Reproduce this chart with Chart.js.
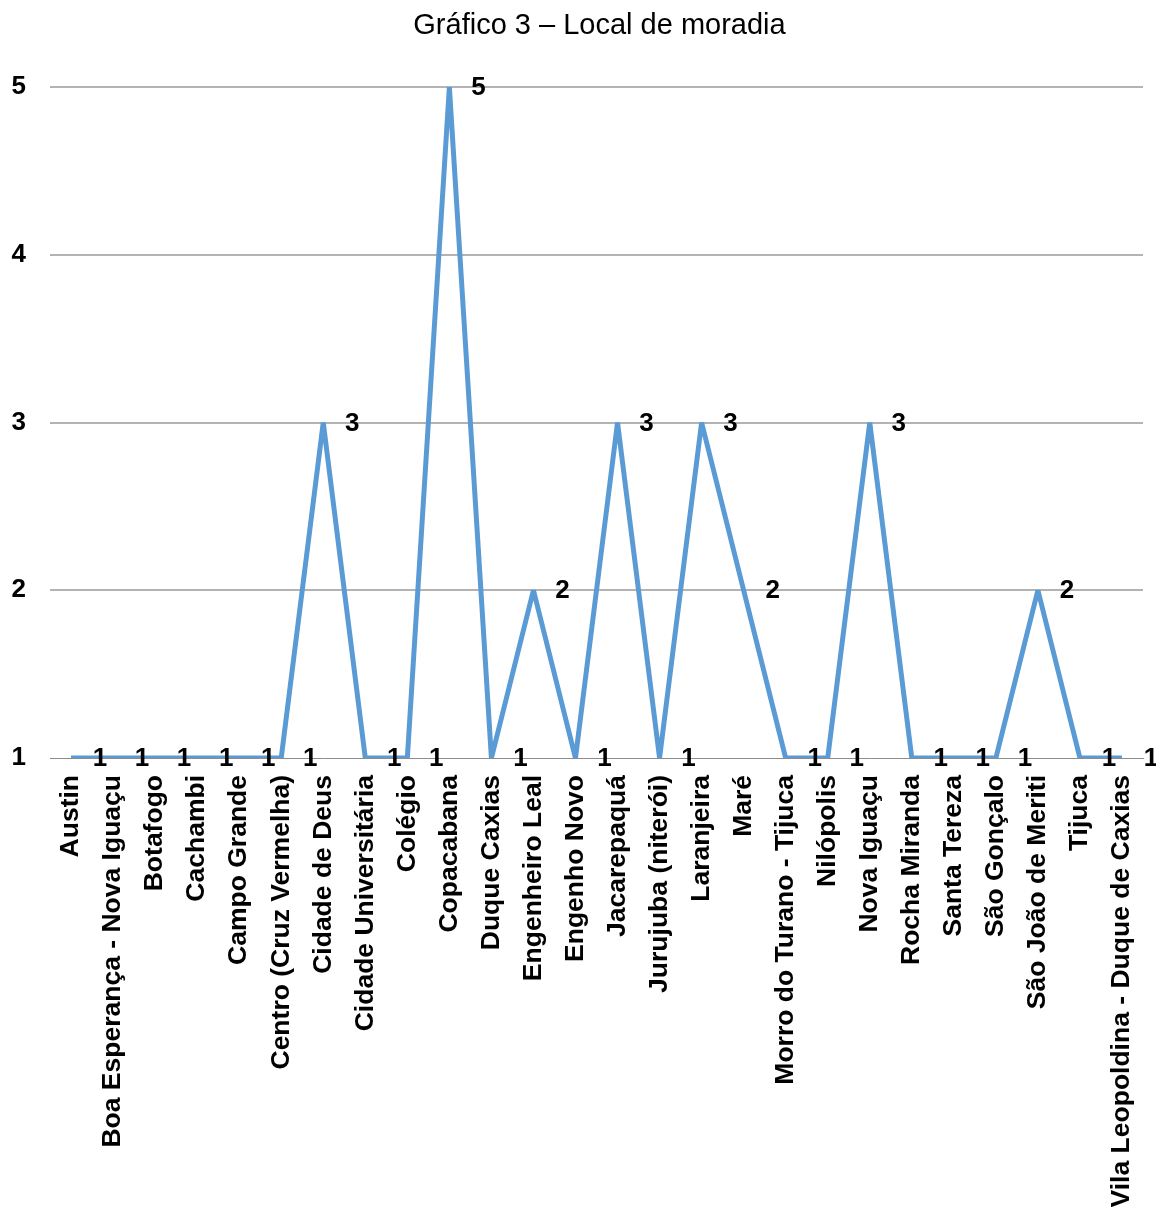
<!DOCTYPE html>
<html lang="pt-BR">
<head>
<meta charset="utf-8">
<title>Gráfico 3 – Local de moradia</title>
<script src="https://cdn.jsdelivr.net/npm/chart.js@4.4.1/dist/chart.umd.min.js"></script>
<style>
  body { margin: 0; background: #fff; }
  #wrap { width: 1156px; height: 1207px; }
</style>
</head>
<body>
<div id="wrap"><canvas id="myChart"></canvas></div>
<script>
const bairros = [
  "Austin",
  "Boa Esperança - Nova Iguaçu",
  "Botafogo",
  "Cachambi",
  "Campo Grande",
  "Centro (Cruz Vermelha)",
  "Cidade de Deus",
  "Cidade Universitária",
  "Colégio",
  "Copacabana",
  "Duque Caxias",
  "Engenheiro Leal",
  "Engenho Novo",
  "Jacarepaquá",
  "Jurujuba (niterói)",
  "Laranjeira",
  "Maré",
  "Morro do Turano - Tijuca",
  "Nilópolis",
  "Nova Iguaçu",
  "Rocha Miranda",
  "Santa Tereza",
  "São Gonçalo",
  "São João de Meriti",
  "Tijuca",
  "Vila Leopoldina - Duque de Caxias"
];

const quantidade = [1, 1, 1, 1, 1, 1, 3, 1, 1, 5, 1, 2, 1, 3, 1, 3, 2, 1, 1, 3, 1, 1, 1, 2, 1, 1];

const yTicks = [1, 2, 3, 4, 5];

const titulo = "Gráfico 3 – Local de moradia";

const fonte = "'Liberation Sans', Arial, sans-serif";

// rótulos de valor à direita de cada ponto
const rotulos = {
  id: "rotulos",
  afterDatasetsDraw(chart) {
    const ctx = chart.ctx;
    const meta = chart.getDatasetMeta(0);
    ctx.save();
    ctx.font = "bold 26px " + fonte;
    ctx.fillStyle = "#000";
    ctx.textAlign = "center";
    ctx.textBaseline = "middle";
    meta.data.forEach((pt, i) => {
      ctx.fillText(String(quantidade[i]), pt.x + 29, pt.y + 1);
    });
    ctx.restore();
  }
};

// o título fica centrado sobre a área do gráfico
const moveTitulo = {
  id: "moveTitulo",
  afterLayout(chart) {
    const t = chart.titleBlock;
    if (t) {
      t.left += 28;
      t.right += 28;
    }
  }
};

const config = {
  type: "line",
  data: {
    labels: bairros,
    datasets: [
      {
        label: "Local de moradia",
        data: quantidade,
        borderColor: "#5B9BD5",
        backgroundColor: "#5B9BD5",
        borderWidth: 5,
        borderJoinStyle: "bevel",
        pointRadius: 0,
        pointHoverRadius: 0,
        tension: 0,
        fill: false
      }
    ]
  },
  options: {
    responsive: true,
    maintainAspectRatio: false,
    animation: false,
    layout: { padding: { left: 0, right: 13, top: 0, bottom: 0 } },
    plugins: {
      legend: { display: false },
      tooltip: { enabled: false },
      title: {
        display: true,
        text: titulo,
        color: "#000",
        font: { family: fonte, size: 29, weight: "normal" },
        padding: { top: 9, bottom: 43.2 }
      }
    },
    scales: {
      x: {
        offset: true,
        grid: { display: false, drawTicks: false },
        border: { display: true, color: "#8C8C8C", width: 1 },
        ticks: {
          autoSkip: false,
          maxRotation: 90,
          minRotation: 90,
          padding: 17,
          color: "#000",
          font: { family: fonte, size: 26.5, weight: "bold" }
        },
        afterFit(scale) {
          scale.height = 449;
          scale.paddingLeft = 0;
          scale.paddingRight = 0;
        }
      },
      y: {
        min: yTicks[0],
        max: yTicks[yTicks.length - 1],
        afterBuildTicks(scale) {
          scale.ticks = yTicks.map((v) => ({ value: v }));
        },
        grid: {
          drawTicks: false,
          lineWidth: 2,
          color: (c) => (c.tick && c.tick.value === 1 ? "rgba(0,0,0,0)" : "#B3B3B3")
        },
        border: { display: false },
        ticks: {
          padding: 24,
          color: "#000",
          font: { family: fonte, size: 26, weight: "bold" }
        },
        afterFit(scale) {
          scale.width = 50;
        }
      }
    }
  },
  plugins: [rotulos, moveTitulo]
};

const myChart = new Chart(document.getElementById("myChart"), config);
</script>
</body>
</html>
